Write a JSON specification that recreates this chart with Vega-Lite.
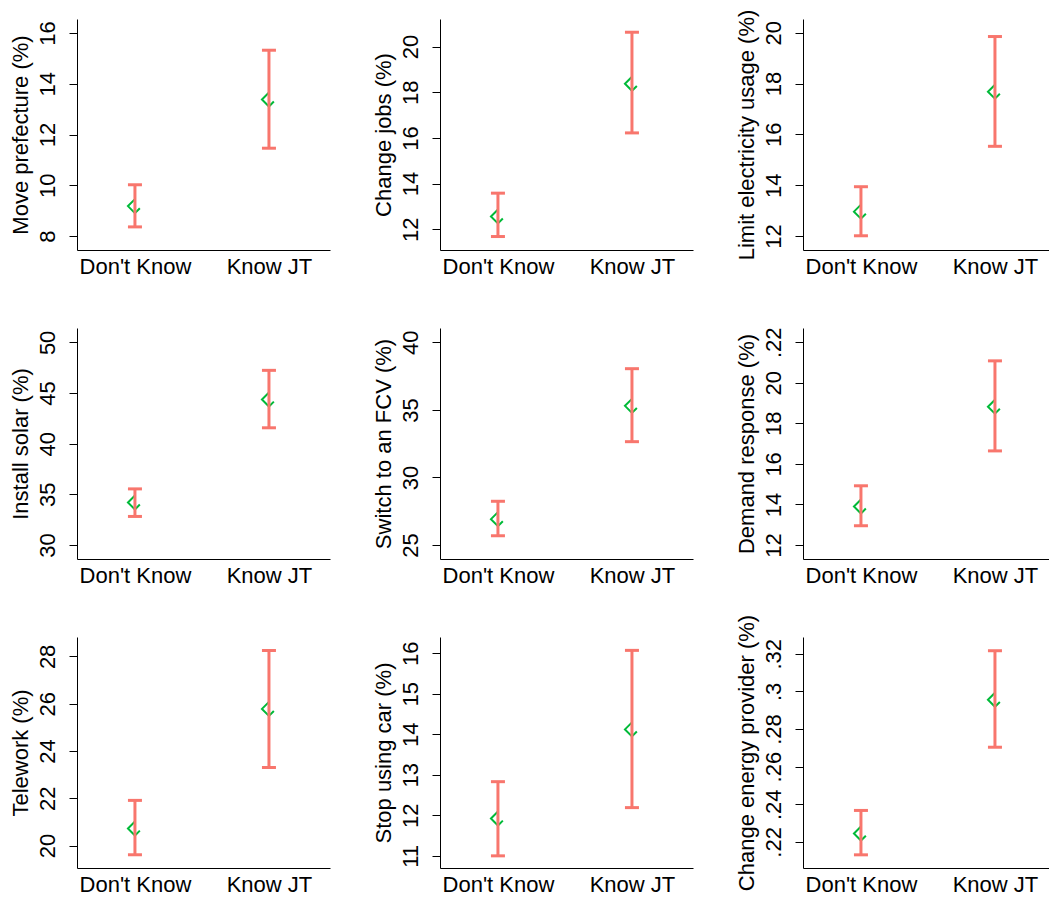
{
  "$schema": "https://vega.github.io/schema/vega-lite/v6.json",
  "background": "white",
  "padding": {"left": 8, "top": 9, "right": 0, "bottom": 0},
  "config": {
    "font": "Liberation Sans",
    "view": {"stroke": null},
    "axis": {"grid": false, "domainColor": "#000000", "domainWidth": 1, "labelColor": "#000000", "titleColor": "#000000", "labelFontSize": 22, "titleFontSize": 22, "titleFontWeight": "normal", "labelOverlap": false, "labelFlush": false},
    "axisY": {"labelAngle": 270, "labelAlign": "center", "labelBaseline": "alphabetic", "labelPadding": 15, "tickSize": 8, "tickWidth": 1, "tickColor": "#000000", "titlePadding": 4},
    "axisX": {"ticks": false, "labelAngle": 0, "labelPadding": 6}
  },
  "data": {"values": [
    {"panel": 1, "group": "Don't Know", "est": 9.18, "lo": 8.36, "hi": 10.02},
    {"panel": 1, "group": "Know JT", "est": 13.38, "lo": 11.46, "hi": 15.32},
    {"panel": 2, "group": "Don't Know", "est": 12.56, "lo": 11.68, "hi": 13.58},
    {"panel": 2, "group": "Know JT", "est": 18.37, "lo": 16.22, "hi": 20.63},
    {"panel": 3, "group": "Don't Know", "est": 12.96, "lo": 12.01, "hi": 13.94},
    {"panel": 3, "group": "Know JT", "est": 17.68, "lo": 15.53, "hi": 19.85},
    {"panel": 4, "group": "Don't Know", "est": 34.2, "lo": 32.82, "hi": 35.54},
    {"panel": 4, "group": "Know JT", "est": 44.36, "lo": 41.57, "hi": 47.24},
    {"panel": 5, "group": "Don't Know", "est": 26.92, "lo": 25.69, "hi": 28.24},
    {"panel": 5, "group": "Know JT", "est": 35.3, "lo": 32.65, "hi": 38.05},
    {"panel": 6, "group": "Don't Know", "est": 13.9, "lo": 12.95, "hi": 14.92},
    {"panel": 6, "group": "Know JT", "est": 18.82, "lo": 16.64, "hi": 21.08},
    {"panel": 7, "group": "Don't Know", "est": 20.72, "lo": 19.61, "hi": 21.91},
    {"panel": 7, "group": "Know JT", "est": 25.78, "lo": 23.3, "hi": 28.25},
    {"panel": 8, "group": "Don't Know", "est": 11.92, "lo": 11.0, "hi": 12.83},
    {"panel": 8, "group": "Know JT", "est": 14.12, "lo": 12.19, "hi": 16.07},
    {"panel": 9, "group": "Don't Know", "est": 0.2244, "lo": 0.2131, "hi": 0.2367},
    {"panel": 9, "group": "Know JT", "est": 0.2955, "lo": 0.2703, "hi": 0.3216}
  ]},
  "columns": 3,
  "spacing": {"row": 78, "column": 110},
  "bounds": "flush",
  "align": "all",
  "concat": [
    {"width": 253, "height": 231, "transform": [{"filter": "datum.panel == 1"}],
     "encoding": {"x": {"field": "group", "type": "nominal", "scale": {"type": "point", "domain": ["Don't Know", "Know JT"], "padding": 0.444, "align": 0.487}, "axis": {"title": null}}},
     "layer": [
      {"mark": {"type": "point", "shape": "M0,-1L-1,0L0,1L0.7,0.3", "filled": false, "size": 196, "strokeWidth": 2, "color": "#00BA38", "opacity": 1},
       "encoding": {"y": {"field": "est", "type": "quantitative", "title": "Move prefecture (%)", "scale": {"domain": [7.45, 16.55], "nice": false, "zero": false}, "axis": {"values": [8, 10, 12, 14, 16]}}}},
      {"mark": {"type": "rule", "color": "#F8766D", "strokeWidth": 3},
       "encoding": {"y": {"field": "lo", "type": "quantitative", "title": "Move prefecture (%)", "scale": {"domain": [7.45, 16.55], "nice": false, "zero": false}, "axis": {"values": [8, 10, 12, 14, 16]}}, "y2": {"field": "hi"}}},
      {"transform": [{"fold": ["lo", "hi"], "as": ["end", "v"]}],
       "mark": {"type": "tick", "color": "#F8766D", "thickness": 3, "size": 14, "opacity": 1},
       "encoding": {"y": {"field": "v", "type": "quantitative", "title": "Move prefecture (%)", "scale": {"domain": [7.45, 16.55], "nice": false, "zero": false}, "axis": {"values": [8, 10, 12, 14, 16]}}}}
     ]},
    {"width": 253, "height": 231, "transform": [{"filter": "datum.panel == 2"}],
     "encoding": {"x": {"field": "group", "type": "nominal", "scale": {"type": "point", "domain": ["Don't Know", "Know JT"], "padding": 0.444, "align": 0.487}, "axis": {"title": null}}},
     "layer": [
      {"mark": {"type": "point", "shape": "M0,-1L-1,0L0,1L0.7,0.3", "filled": false, "size": 196, "strokeWidth": 2, "color": "#00BA38", "opacity": 1},
       "encoding": {"y": {"field": "est", "type": "quantitative", "title": "Change jobs (%)", "scale": {"domain": [11.09, 21.21], "nice": false, "zero": false}, "axis": {"values": [12, 14, 16, 18, 20]}}}},
      {"mark": {"type": "rule", "color": "#F8766D", "strokeWidth": 3},
       "encoding": {"y": {"field": "lo", "type": "quantitative", "title": "Change jobs (%)", "scale": {"domain": [11.09, 21.21], "nice": false, "zero": false}, "axis": {"values": [12, 14, 16, 18, 20]}}, "y2": {"field": "hi"}}},
      {"transform": [{"fold": ["lo", "hi"], "as": ["end", "v"]}],
       "mark": {"type": "tick", "color": "#F8766D", "thickness": 3, "size": 14, "opacity": 1},
       "encoding": {"y": {"field": "v", "type": "quantitative", "title": "Change jobs (%)", "scale": {"domain": [11.09, 21.21], "nice": false, "zero": false}, "axis": {"values": [12, 14, 16, 18, 20]}}}}
     ]},
    {"width": 253, "height": 231, "transform": [{"filter": "datum.panel == 3"}],
     "encoding": {"x": {"field": "group", "type": "nominal", "scale": {"type": "point", "domain": ["Don't Know", "Know JT"], "padding": 0.444, "align": 0.487}, "axis": {"title": null}}},
     "layer": [
      {"mark": {"type": "point", "shape": "M0,-1L-1,0L0,1L0.7,0.3", "filled": false, "size": 196, "strokeWidth": 2, "color": "#00BA38", "opacity": 1},
       "encoding": {"y": {"field": "est", "type": "quantitative", "title": "Limit electricity usage (%)", "scale": {"domain": [11.45, 20.54], "nice": false, "zero": false}, "axis": {"values": [12, 14, 16, 18, 20]}}}},
      {"mark": {"type": "rule", "color": "#F8766D", "strokeWidth": 3},
       "encoding": {"y": {"field": "lo", "type": "quantitative", "title": "Limit electricity usage (%)", "scale": {"domain": [11.45, 20.54], "nice": false, "zero": false}, "axis": {"values": [12, 14, 16, 18, 20]}}, "y2": {"field": "hi"}}},
      {"transform": [{"fold": ["lo", "hi"], "as": ["end", "v"]}],
       "mark": {"type": "tick", "color": "#F8766D", "thickness": 3, "size": 14, "opacity": 1},
       "encoding": {"y": {"field": "v", "type": "quantitative", "title": "Limit electricity usage (%)", "scale": {"domain": [11.45, 20.54], "nice": false, "zero": false}, "axis": {"values": [12, 14, 16, 18, 20]}}}}
     ]},
    {"width": 253, "height": 231, "transform": [{"filter": "datum.panel == 4"}],
     "encoding": {"x": {"field": "group", "type": "nominal", "scale": {"type": "point", "domain": ["Don't Know", "Know JT"], "padding": 0.444, "align": 0.487}, "axis": {"title": null}}},
     "layer": [
      {"mark": {"type": "point", "shape": "M0,-1L-1,0L0,1L0.7,0.3", "filled": false, "size": 196, "strokeWidth": 2, "color": "#00BA38", "opacity": 1},
       "encoding": {"y": {"field": "est", "type": "quantitative", "title": "Install solar (%)", "scale": {"domain": [28.62, 51.42], "nice": false, "zero": false}, "axis": {"values": [30, 35, 40, 45, 50]}}}},
      {"mark": {"type": "rule", "color": "#F8766D", "strokeWidth": 3},
       "encoding": {"y": {"field": "lo", "type": "quantitative", "title": "Install solar (%)", "scale": {"domain": [28.62, 51.42], "nice": false, "zero": false}, "axis": {"values": [30, 35, 40, 45, 50]}}, "y2": {"field": "hi"}}},
      {"transform": [{"fold": ["lo", "hi"], "as": ["end", "v"]}],
       "mark": {"type": "tick", "color": "#F8766D", "thickness": 3, "size": 14, "opacity": 1},
       "encoding": {"y": {"field": "v", "type": "quantitative", "title": "Install solar (%)", "scale": {"domain": [28.62, 51.42], "nice": false, "zero": false}, "axis": {"values": [30, 35, 40, 45, 50]}}}}
     ]},
    {"width": 253, "height": 231, "transform": [{"filter": "datum.panel == 5"}],
     "encoding": {"x": {"field": "group", "type": "nominal", "scale": {"type": "point", "domain": ["Don't Know", "Know JT"], "padding": 0.444, "align": 0.487}, "axis": {"title": null}}},
     "layer": [
      {"mark": {"type": "point", "shape": "M0,-1L-1,0L0,1L0.7,0.3", "filled": false, "size": 196, "strokeWidth": 2, "color": "#00BA38", "opacity": 1},
       "encoding": {"y": {"field": "est", "type": "quantitative", "title": "Switch to an FCV (%)", "scale": {"domain": [23.97, 41.06], "nice": false, "zero": false}, "axis": {"values": [25, 30, 35, 40]}}}},
      {"mark": {"type": "rule", "color": "#F8766D", "strokeWidth": 3},
       "encoding": {"y": {"field": "lo", "type": "quantitative", "title": "Switch to an FCV (%)", "scale": {"domain": [23.97, 41.06], "nice": false, "zero": false}, "axis": {"values": [25, 30, 35, 40]}}, "y2": {"field": "hi"}}},
      {"transform": [{"fold": ["lo", "hi"], "as": ["end", "v"]}],
       "mark": {"type": "tick", "color": "#F8766D", "thickness": 3, "size": 14, "opacity": 1},
       "encoding": {"y": {"field": "v", "type": "quantitative", "title": "Switch to an FCV (%)", "scale": {"domain": [23.97, 41.06], "nice": false, "zero": false}, "axis": {"values": [25, 30, 35, 40]}}}}
     ]},
    {"width": 253, "height": 231, "transform": [{"filter": "datum.panel == 6"}],
     "encoding": {"x": {"field": "group", "type": "nominal", "scale": {"type": "point", "domain": ["Don't Know", "Know JT"], "padding": 0.444, "align": 0.487}, "axis": {"title": null}}},
     "layer": [
      {"mark": {"type": "point", "shape": "M0,-1L-1,0L0,1L0.7,0.3", "filled": false, "size": 196, "strokeWidth": 2, "color": "#00BA38", "opacity": 1},
       "encoding": {"y": {"field": "est", "type": "quantitative", "title": "Demand response (%)", "scale": {"domain": [11.31, 22.7], "nice": false, "zero": false}, "axis": {"values": [12, 14, 16, 18, 20, 22], "labelExpr": "datum.value == 22 ? '.22' : datum.label"}}}},
      {"mark": {"type": "rule", "color": "#F8766D", "strokeWidth": 3},
       "encoding": {"y": {"field": "lo", "type": "quantitative", "title": "Demand response (%)", "scale": {"domain": [11.31, 22.7], "nice": false, "zero": false}, "axis": {"values": [12, 14, 16, 18, 20, 22], "labelExpr": "datum.value == 22 ? '.22' : datum.label"}}, "y2": {"field": "hi"}}},
      {"transform": [{"fold": ["lo", "hi"], "as": ["end", "v"]}],
       "mark": {"type": "tick", "color": "#F8766D", "thickness": 3, "size": 14, "opacity": 1},
       "encoding": {"y": {"field": "v", "type": "quantitative", "title": "Demand response (%)", "scale": {"domain": [11.31, 22.7], "nice": false, "zero": false}, "axis": {"values": [12, 14, 16, 18, 20, 22], "labelExpr": "datum.value == 22 ? '.22' : datum.label"}}}}
     ]},
    {"width": 253, "height": 231, "transform": [{"filter": "datum.panel == 7"}],
     "encoding": {"x": {"field": "group", "type": "nominal", "scale": {"type": "point", "domain": ["Don't Know", "Know JT"], "padding": 0.444, "align": 0.487}, "axis": {"title": null}}},
     "layer": [
      {"mark": {"type": "point", "shape": "M0,-1L-1,0L0,1L0.7,0.3", "filled": false, "size": 196, "strokeWidth": 2, "color": "#00BA38", "opacity": 1},
       "encoding": {"y": {"field": "est", "type": "quantitative", "title": "Telework (%)", "scale": {"domain": [19.05, 28.82], "nice": false, "zero": false}, "axis": {"values": [20, 22, 24, 26, 28]}}}},
      {"mark": {"type": "rule", "color": "#F8766D", "strokeWidth": 3},
       "encoding": {"y": {"field": "lo", "type": "quantitative", "title": "Telework (%)", "scale": {"domain": [19.05, 28.82], "nice": false, "zero": false}, "axis": {"values": [20, 22, 24, 26, 28]}}, "y2": {"field": "hi"}}},
      {"transform": [{"fold": ["lo", "hi"], "as": ["end", "v"]}],
       "mark": {"type": "tick", "color": "#F8766D", "thickness": 3, "size": 14, "opacity": 1},
       "encoding": {"y": {"field": "v", "type": "quantitative", "title": "Telework (%)", "scale": {"domain": [19.05, 28.82], "nice": false, "zero": false}, "axis": {"values": [20, 22, 24, 26, 28]}}}}
     ]},
    {"width": 253, "height": 231, "transform": [{"filter": "datum.panel == 8"}],
     "encoding": {"x": {"field": "group", "type": "nominal", "scale": {"type": "point", "domain": ["Don't Know", "Know JT"], "padding": 0.444, "align": 0.487}, "axis": {"title": null}}},
     "layer": [
      {"mark": {"type": "point", "shape": "M0,-1L-1,0L0,1L0.7,0.3", "filled": false, "size": 196, "strokeWidth": 2, "color": "#00BA38", "opacity": 1},
       "encoding": {"y": {"field": "est", "type": "quantitative", "title": "Stop using car (%)", "scale": {"domain": [10.7, 16.4], "nice": false, "zero": false}, "axis": {"values": [11, 12, 13, 14, 15, 16]}}}},
      {"mark": {"type": "rule", "color": "#F8766D", "strokeWidth": 3},
       "encoding": {"y": {"field": "lo", "type": "quantitative", "title": "Stop using car (%)", "scale": {"domain": [10.7, 16.4], "nice": false, "zero": false}, "axis": {"values": [11, 12, 13, 14, 15, 16]}}, "y2": {"field": "hi"}}},
      {"transform": [{"fold": ["lo", "hi"], "as": ["end", "v"]}],
       "mark": {"type": "tick", "color": "#F8766D", "thickness": 3, "size": 14, "opacity": 1},
       "encoding": {"y": {"field": "v", "type": "quantitative", "title": "Stop using car (%)", "scale": {"domain": [10.7, 16.4], "nice": false, "zero": false}, "axis": {"values": [11, 12, 13, 14, 15, 16]}}}}
     ]},
    {"width": 253, "height": 231, "transform": [{"filter": "datum.panel == 9"}],
     "encoding": {"x": {"field": "group", "type": "nominal", "scale": {"type": "point", "domain": ["Don't Know", "Know JT"], "padding": 0.444, "align": 0.487}, "axis": {"title": null}}},
     "layer": [
      {"mark": {"type": "point", "shape": "M0,-1L-1,0L0,1L0.7,0.3", "filled": false, "size": 196, "strokeWidth": 2, "color": "#00BA38", "opacity": 1},
       "encoding": {"y": {"field": "est", "type": "quantitative", "title": "Change energy provider (%)", "scale": {"domain": [0.2061, 0.3289], "nice": false, "zero": false}, "axis": {"values": [0.22, 0.24, 0.26, 0.28, 0.3, 0.32], "labelExpr": "replace(format(datum.value, '.2~f'), '0.', '.')"}}}},
      {"mark": {"type": "rule", "color": "#F8766D", "strokeWidth": 3},
       "encoding": {"y": {"field": "lo", "type": "quantitative", "title": "Change energy provider (%)", "scale": {"domain": [0.2061, 0.3289], "nice": false, "zero": false}, "axis": {"values": [0.22, 0.24, 0.26, 0.28, 0.3, 0.32], "labelExpr": "replace(format(datum.value, '.2~f'), '0.', '.')"}}, "y2": {"field": "hi"}}},
      {"transform": [{"fold": ["lo", "hi"], "as": ["end", "v"]}],
       "mark": {"type": "tick", "color": "#F8766D", "thickness": 3, "size": 14, "opacity": 1},
       "encoding": {"y": {"field": "v", "type": "quantitative", "title": "Change energy provider (%)", "scale": {"domain": [0.2061, 0.3289], "nice": false, "zero": false}, "axis": {"values": [0.22, 0.24, 0.26, 0.28, 0.3, 0.32], "labelExpr": "replace(format(datum.value, '.2~f'), '0.', '.')"}}}}
     ]}
  ]
}
